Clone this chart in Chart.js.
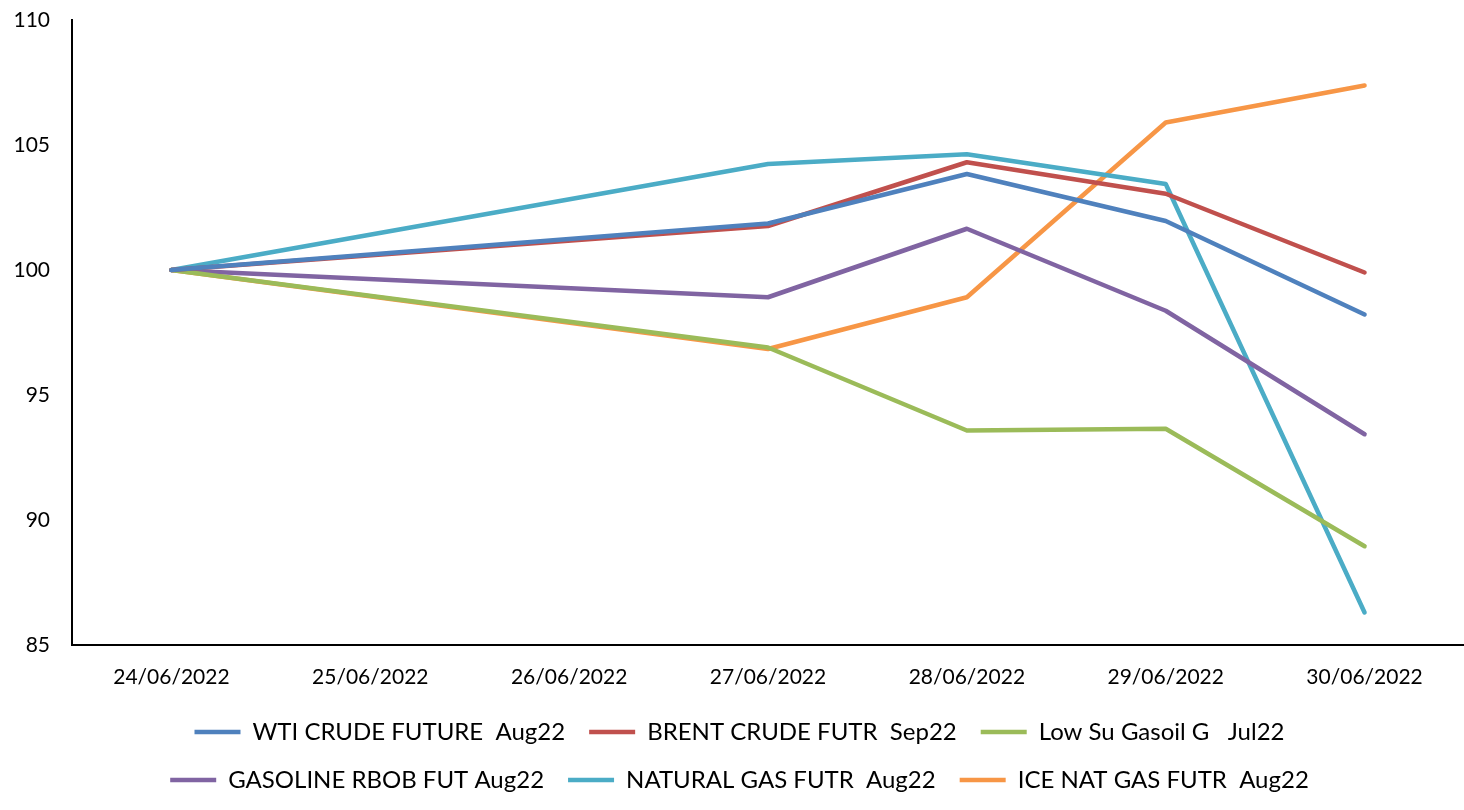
<!DOCTYPE html>
<html>
<head>
<meta charset="utf-8">
<script src="https://cdn.jsdelivr.net/npm/chart.js@4"></script>
<style>
  body { margin: 0; background: #fff; }
  #wrap { width: 1464px; height: 810px; }
</style>
</head>
<body>
<div id="wrap"><canvas id="lineChart" width="1464" height="810"></canvas></div>
<script>
// ---------- DATA ----------
const dates = ["24/06/2022", "25/06/2022", "26/06/2022", "27/06/2022", "28/06/2022", "29/06/2022", "30/06/2022"];

const wti      = [100, null, null, 101.86, 103.84, 101.96, 98.22];
const brent    = [100, null, null, 101.76, 104.31, 103.05, 99.9];
const gasoil   = [100, null, null, 96.9, 93.58, 93.65, 88.95];
const gasoline = [100, null, null, 98.91, 101.65, 98.37, 93.43];
const natGas   = [100, null, null, 104.24, 104.63, 103.44, 86.3];
const iceGas   = [100, null, null, 96.84, 98.91, 105.9, 107.38];

const seriesNames = [
  "WTI CRUDE FUTURE  Aug22",
  "BRENT CRUDE FUTR  Sep22",
  "Low Su Gasoil G   Jul22",
  "GASOLINE RBOB FUT Aug22",
  "NATURAL GAS FUTR  Aug22",
  "ICE NAT GAS FUTR  Aug22"
];
const seriesColors = ["#4F81BD", "#C0504D", "#9BBB59", "#8064A2", "#4BACC6", "#F79646"];

const yMin = 85, yMax = 110, yStep = 5;

// ---------- CHART ----------
const allSeries = [wti, brent, gasoil, gasoline, natGas, iceGas];
const datasets = allSeries.map((d, i) => ({
  label: seriesNames[i],
  data: d,
  borderColor: seriesColors[i],
  backgroundColor: seriesColors[i],
  borderWidth: 4.5,
  borderCapStyle: "round",
  borderJoinStyle: "round",
  pointRadius: 0,
  pointStyle: "line",
  spanGaps: true,
  tension: 0,
  fill: false
}));

// drop the label padding chart.js adds around the plot, the layout padding handles it
function noEdgePadding(scale) {
  scale.paddingLeft = 0;
  scale.paddingRight = 0;
  scale.paddingTop = 0;
  scale.paddingBottom = 0;
}

new Chart(document.getElementById("lineChart"), {
  type: "line",
  data: { labels: dates, datasets: datasets },
  options: {
    responsive: false,
    animation: false,
    layout: { padding: { left: 15, right: 0, top: 20, bottom: 8 } },
    plugins: {
      tooltip: { enabled: false },
      legend: {
        position: "bottom",
        labels: {
          color: "#000",
          font: { family: "Lato", size: 24 },
          usePointStyle: true,
          pointStyleWidth: 46,
          padding: 24
        }
      }
    },
    scales: {
      x: {
        offset: true,
        grid: { display: false, drawTicks: false },
        border: { display: true, color: "#000", width: 2 },
        ticks: { color: "#000", font: { family: "Lato", size: 21 }, padding: 20, maxRotation: 0 },
        afterFit: (scale) => { noEdgePadding(scale); scale.height = 51; }
      },
      y: {
        min: yMin,
        max: yMax,
        grid: { display: false, drawTicks: false },
        border: { display: true, color: "#000", width: 2 },
        ticks: { color: "#000", font: { family: "Lato", size: 21 }, stepSize: yStep, padding: 22 },
        afterFit: (scale) => { noEdgePadding(scale); scale.width = 57; }
      }
    }
  }
});
</script>
</body>
</html>
